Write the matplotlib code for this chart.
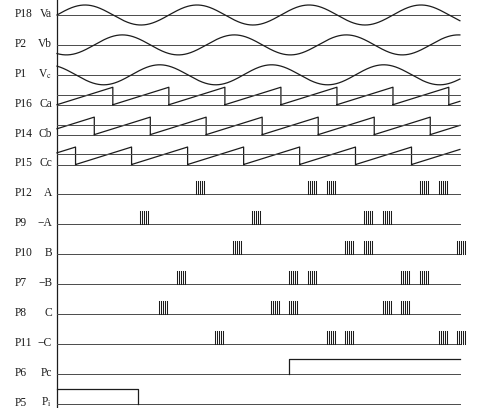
import numpy as np
import matplotlib
matplotlib.use("Agg")
import matplotlib.pyplot as plt

plt.rcParams["font.family"] = ["Liberation Serif", "DejaVu Serif"]
plt.rcParams["mathtext.fontset"] = "stix"

# ---- signal definitions (angles in electrical degrees) ----
codes = ["P18", "P2", "P1", "P16", "P14", "P15", "P12", "P9", "P10", "P7",
         "P8", "P11", "P6", "P5"]
names = ["Va", "Vb", r"V$_\mathrm{c}$", "Ca", "Cb", "Cc", "A", "\u2212A", "B",
         "\u2212B", "C", "\u2212C", "Pc", r"P$_\mathrm{i}$"]

sine_phase = [0, -120, 120]          # Va, Vb, Vc
saw_phase = [0, 120, -120]           # Ca, Cb, Cc (reset on zero crossings)
saw_ctrl_level = [0.53, 0.53, 0.58]  # comparison level on each ramp

# start angle of each trigger pulse train
pulse_A = [447, 807, 867, 1167, 1227]
pulse_nA = [267, 627, 987, 1047]
pulse_B = [567, 927, 987, 1287]
pulse_nB = [387, 747, 807, 1107, 1167]
pulse_C = [327, 687, 747, 1047, 1107]
pulse_nC = [507, 867, 927, 1227, 1287]
pulses = [pulse_A, pulse_nA, pulse_B, pulse_nB, pulse_C, pulse_nC]

pc_rise = 745      # Pc switches high
pi_fall = 260      # Pi switches low
t_end = 1295       # length of the time axis

# ---- layout ----
W, H, DPI = 483, 408, 100
px_per_deg = 112 / 360
x0 = 57
row0, row_step = 15, 29.9
sine_amp = 10
saw_h = 17.5
pulse_h = 13
pulse_w = 30
n_lines = 5
step_h = 15

ink = "#1c1c1c"
base_c = "#4a4a4a"

fig = plt.figure(figsize=(W / DPI, H / DPI), dpi=DPI)
ax = fig.add_axes([0, 0, 1, 1])
ax.set_xlim(-x0 / px_per_deg, (W - x0) / px_per_deg)
ax.set_ylim(H, 0)
ax.axis("off")

rows = [row0 + i * row_step for i in range(len(codes))]
theta = np.linspace(0, t_end, 2000)

# time axis (vertical line)
ax.plot([0, 0], [0, H], color=ink, lw=0.9)

# baselines
for y in rows:
    ax.plot([0, t_end], [y, y], color=base_c, lw=0.7)

# phase voltages
for i, ph in enumerate(sine_phase):
    y = rows[i] - sine_amp * np.sin(np.radians(theta + ph))
    ax.plot(theta, y, color=ink, lw=0.9)

# synchronous sawtooth ramps
for k, ph in enumerate(saw_phase):
    y0 = rows[3 + k]
    frac = np.mod(theta - ph, 180) / 180
    # break the line at each reset so the drop is drawn vertically
    resets = np.where(np.diff(frac) < 0)[0]
    xs, ys = [], []
    start = 0
    for r in resets:
        xs += list(theta[start:r + 1]) + [theta[r], np.nan]
        ys += list(y0 - saw_h * frac[start:r + 1]) + [y0, np.nan]
        start = r + 1
    xs += list(theta[start:])
    ys += list(y0 - saw_h * frac[start:])
    ax.plot(xs, ys, color=ink, lw=0.9)
    ax.plot([0, t_end], [y0 - saw_h * saw_ctrl_level[k]] * 2, color=base_c, lw=0.7)

# trigger pulse trains
for k, plist in enumerate(pulses):
    y0 = rows[6 + k]
    for p in plist:
        for j in range(n_lines):
            xx = p + j * pulse_w / (n_lines - 1) * 0.85
            ax.plot([xx, xx], [y0, y0 - pulse_h], color=ink, lw=0.75)

# Pc step
ypc = rows[12]
ax.plot([pc_rise, pc_rise, t_end], [ypc, ypc - step_h, ypc - step_h], color=ink, lw=0.9)
# Pi step
ypi = rows[13]
ax.plot([0, pi_fall, pi_fall], [ypi - step_h, ypi - step_h, ypi], color=ink, lw=0.9)

# labels
code_x = (15 - x0) / px_per_deg
name_x = (52 - x0) / px_per_deg
for y, c, n in zip(rows, codes, names):
    ax.text(code_x, y - 1, c, ha="left", va="center", fontsize=8.3, color=ink)
    ax.text(name_x, y - 1, n, ha="right", va="center", fontsize=8.3, color=ink)

fig.savefig("out.png", dpi=DPI, facecolor="white")
